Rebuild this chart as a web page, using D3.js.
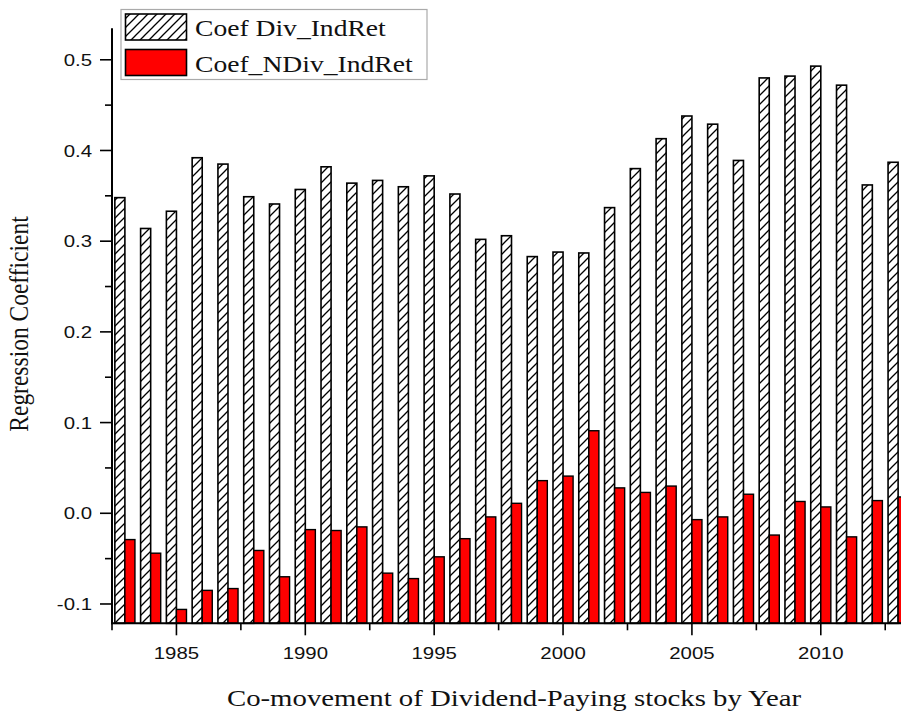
<!DOCTYPE html>
<html>
<head>
<meta charset="utf-8">
<script src="https://cdn.jsdelivr.net/npm/d3@7"></script>
<style>
  html, body { margin: 0; padding: 0; background: #fff; }
  svg { display: block; }
</style>
</head>
<body>
<svg id="chart" width="901" height="718"></svg>
<script>
// ---- data ----
const years = [1983,1984,1985,1986,1987,1988,1989,1990,1991,1992,1993,1994,1995,1996,1997,1998,1999,2000,2001,2002,2003,2004,2005,2006,2007,2008,2009,2010,2011,2012,2013];
const coefDiv = [0.348,0.314,0.333,0.392,0.385,0.349,0.341,0.357,0.382,0.364,0.367,0.360,0.372,0.352,0.302,0.306,0.283,0.288,0.287,0.337,0.380,0.413,0.438,0.429,0.389,0.480,0.482,0.493,0.472,0.362,0.387];
const coefNDiv = [-0.029,-0.044,-0.106,-0.085,-0.083,-0.041,-0.070,-0.018,-0.019,-0.015,-0.066,-0.072,-0.048,-0.028,-0.004,0.011,0.036,0.041,0.091,0.028,0.023,0.030,-0.007,-0.004,0.021,-0.024,0.013,0.007,-0.026,0.014,0.018];
const yTicksMajor = [-0.1,0.0,0.1,0.2,0.3,0.4,0.5];
const yTickLabels = ["-0.1","0.0","0.1","0.2","0.3","0.4","0.5"];
const yTicksMinor = [-0.05,0.05,0.15,0.25,0.35,0.45];
const xTicksMajor = [1985,1990,1995,2000,2005,2010];
const xTicksMinor = [1982.5,1987.5,1992.5,1997.5,2002.5,2007.5,2012.5];
const seriesNames = ["Coef Div_IndRet","Coef_NDiv_IndRet"];

// ---- layout ----
const SX = 1.2; // horizontal stretch of the original picture's text
const svg = d3.select("#chart");
const x = d3.scaleLinear().domain([1982.5, 2013.5]).range([112, 911]);
const y = d3.scaleLinear().domain([-0.1213, 0.5347]).range([623.3, 28.3]);
const step = x(1) - x(0);
const bw = step * 0.39;

const defs = svg.append("defs");
const pat = defs.append("pattern").attr("id","hatch").attr("patternUnits","userSpaceOnUse")
  .attr("width",9).attr("height",9);
pat.append("rect").attr("width",9).attr("height",9).attr("fill","#fff");
pat.append("path").attr("d","M0,9 L9,0 M-2,2 L2,-2 M7,11 L11,7")
  .attr("stroke","#000").attr("stroke-width",1.3);

const g = svg.append("g");

// hatched bars
g.selectAll("rect.div").data(years).join("rect").attr("class","div")
  .attr("x", (d)=> x(d) - bw)
  .attr("width", bw)
  .attr("y", (d,i)=> y(coefDiv[i]))
  .attr("height", (d,i)=> y.range()[0] - y(coefDiv[i]))
  .attr("fill","url(#hatch)").attr("stroke","#000").attr("stroke-width",1.6);

// red bars
g.selectAll("rect.ndiv").data(years).join("rect").attr("class","ndiv")
  .attr("x", (d)=> x(d))
  .attr("width", bw)
  .attr("y", (d,i)=> y(coefNDiv[i]))
  .attr("height", (d,i)=> y.range()[0] - y(coefNDiv[i]))
  .attr("fill","#ff0000").attr("stroke","#000").attr("stroke-width",1.4);

const sansFont = "'Liberation Sans', Arial, sans-serif";
const serifFont = "'Liberation Serif', 'Times New Roman', serif";

// y axis
const yAxis = g.append("g").attr("transform",`translate(${x.range()[0]},0)`);
yAxis.append("line").attr("x1",0).attr("x2",0).attr("y1",y.range()[1]).attr("y2",y.range()[0]+1)
  .attr("stroke","#000").attr("stroke-width",2);
yAxis.selectAll("line.maj").data(yTicksMajor).join("line").attr("class","maj")
  .attr("x1",-12).attr("x2",0).attr("y1",d=>y(d)).attr("y2",d=>y(d))
  .attr("stroke","#000").attr("stroke-width",1.6);
yAxis.selectAll("line.min").data(yTicksMinor).join("line").attr("class","min")
  .attr("x1",-7).attr("x2",0).attr("y1",d=>y(d)).attr("y2",d=>y(d))
  .attr("stroke","#000").attr("stroke-width",1.6);
yAxis.selectAll("text").data(yTicksMajor).join("text")
  .attr("transform",d=>`translate(-20,${y(d)}) scale(${SX},1)`).attr("dy","0.36em")
  .attr("text-anchor","end")
  .attr("font-family",sansFont).attr("font-size",17)
  .attr("fill","#111")
  .text((d,i)=>yTickLabels[i]);

// x axis
const xAxis = g.append("g").attr("transform",`translate(0,${y.range()[0]})`);
xAxis.append("line").attr("x1",x.range()[0]-1).attr("x2",x.range()[1]).attr("y1",0).attr("y2",0)
  .attr("stroke","#000").attr("stroke-width",2);
xAxis.selectAll("line.maj").data(xTicksMajor).join("line").attr("class","maj")
  .attr("x1",d=>x(d)).attr("x2",d=>x(d)).attr("y1",0).attr("y2",12)
  .attr("stroke","#000").attr("stroke-width",1.6);
xAxis.selectAll("line.min").data(xTicksMinor).join("line").attr("class","min")
  .attr("x1",d=>x(d)).attr("x2",d=>x(d)).attr("y1",0).attr("y2",7)
  .attr("stroke","#000").attr("stroke-width",1.6);
xAxis.selectAll("text").data(xTicksMajor).join("text")
  .attr("transform",d=>`translate(${x(d)},36) scale(${SX},1)`)
  .attr("text-anchor","middle")
  .attr("font-family",sansFont).attr("font-size",17)
  .attr("fill","#111")
  .text(d=>d);

// axis titles
svg.append("text").attr("transform",`translate(514,706) scale(${SX},1)`).attr("text-anchor","middle")
  .attr("font-family",serifFont).attr("font-size",24)
  .attr("fill","#111")
  .text("Co-movement of Dividend-Paying stocks by Year");
svg.append("text").attr("transform",`translate(28,324) rotate(-90) scale(1,${SX})`).attr("text-anchor","middle")
  .attr("font-family",serifFont).attr("font-size",23.5)
  .attr("fill","#111")
  .text("Regression Coefficient");

// legend
const lg = svg.append("g");
lg.append("rect").attr("x",121).attr("y",9.5).attr("width",306).attr("height",70)
  .attr("fill","#fff").attr("stroke","#aaa").attr("stroke-width",1.2);
const swFills = ["url(#hatch)","#ff0000"];
seriesNames.forEach((name,i)=>{
  lg.append("rect").attr("x",125.5).attr("y",14 + i*35.5).attr("width",61).attr("height",26)
    .attr("fill",swFills[i]).attr("stroke","#000").attr("stroke-width",1.6);
  lg.append("text").attr("transform",`translate(195,${36 + i*35.5}) scale(${SX},1)`)
    .attr("font-family",serifFont).attr("font-size",23)
    .attr("fill","#111")
    .text(name);
});
</script>
</body>
</html>
